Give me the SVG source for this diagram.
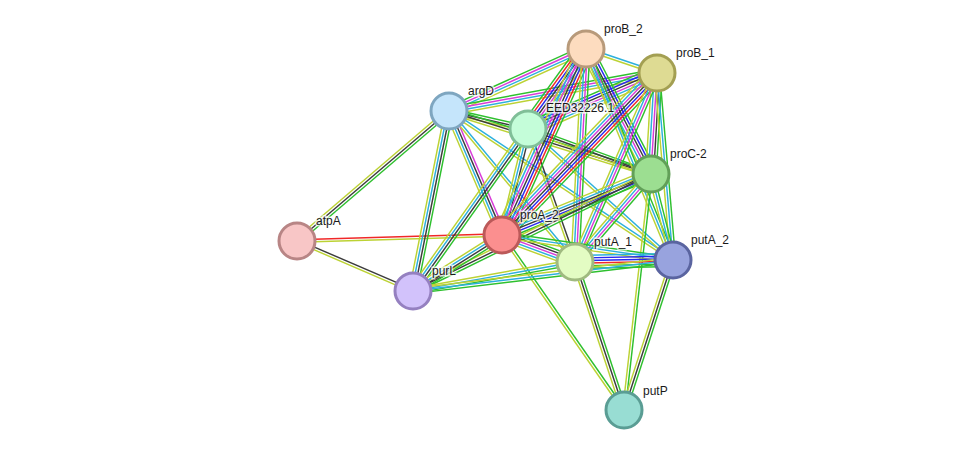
<svg xmlns="http://www.w3.org/2000/svg" width="975" height="457" viewBox="0 0 975 457">
<style>
.e path{fill:none;stroke-width:1.45}
.g{stroke:#2EC02E}.r{stroke:#F02828}.b{stroke:#2828F0}.k{stroke:#3C3C3C}.m{stroke:#D83CD8}.c{stroke:#2CB0DC}.y{stroke:#BCD234}
.n circle{stroke-width:3}
.n text{font-family:"Liberation Sans",Arial,sans-serif;font-size:12px;fill:#1a1a1a;stroke:#fff;stroke-width:3;stroke-opacity:.7;paint-order:stroke}
</style>
<rect width="975" height="457" fill="#fff"/>
<g id="connectors" class="e">
<g transform="translate(297 241) rotate(-40.54)"><path class="y" d="M0 -2.6H200"/><path class="k" d="M0 0H200"/><path class="g" d="M0 2.6H200"/></g>
<g transform="translate(297 241) rotate(-1.68)"><path class="r" d="M0 -1.3H205"/><path class="y" d="M0 1.3H205"/></g>
<g transform="translate(297 241) rotate(23.32)"><path class="k" d="M0 -1.3H126"/><path class="y" d="M0 1.3H126"/></g>
<g transform="translate(449 111) rotate(-24.35)"><path class="g" d="M0 -3.9H150"/><path class="m" d="M0 -1.3H150"/><path class="c" d="M0 1.3H150"/><path class="y" d="M0 3.9H150"/></g>
<g transform="translate(449 111) rotate(-10.35)"><path class="g" d="M0 -3.9H211"/><path class="m" d="M0 -1.3H211"/><path class="c" d="M0 1.3H211"/><path class="y" d="M0 3.9H211"/></g>
<g transform="translate(449 111) rotate(12.84)"><path class="g" d="M0 -2.6H81"/><path class="k" d="M0 0H81"/><path class="y" d="M0 2.6H81"/></g>
<g transform="translate(449 111) rotate(17.32)"><path class="g" d="M0 -2.6H212"/><path class="k" d="M0 0H212"/><path class="y" d="M0 2.6H212"/></g>
<g transform="translate(449 111) rotate(66.86)"><path class="m" d="M0 -3.9H135"/><path class="k" d="M0 -1.3H135"/><path class="c" d="M0 1.3H135"/><path class="y" d="M0 3.9H135"/></g>
<g transform="translate(449 111) rotate(101.31)"><path class="g" d="M0 -3.9H184"/><path class="k" d="M0 -1.3H184"/><path class="c" d="M0 1.3H184"/><path class="y" d="M0 3.9H184"/></g>
<g transform="translate(449 111) rotate(50.16)"><path class="c" d="M0 -1.3H197"/><path class="y" d="M0 1.3H197"/></g>
<g transform="translate(449 111) rotate(33.63)"><path class="c" d="M0 -1.3H269"/><path class="y" d="M0 1.3H269"/></g>
<g transform="translate(528 129) rotate(-54.06)"><path class="g" d="M0 -7.8H99"/><path class="r" d="M0 -5.2H99"/><path class="b" d="M0 -2.6H99"/><path class="k" d="M0 0H99"/><path class="m" d="M0 2.6H99"/><path class="c" d="M0 5.2H99"/><path class="y" d="M0 7.8H99"/></g>
<g transform="translate(528 129) rotate(-23.46)"><path class="g" d="M0 -6.5H141"/><path class="b" d="M0 -3.9H141"/><path class="k" d="M0 -1.3H141"/><path class="m" d="M0 1.3H141"/><path class="c" d="M0 3.9H141"/><path class="y" d="M0 6.5H141"/></g>
<g transform="translate(528 129) rotate(20.1)"><path class="g" d="M0 -2.6H131"/><path class="k" d="M0 0H131"/><path class="y" d="M0 2.6H131"/></g>
<g transform="translate(528 129) rotate(103.78)"><path class="k" d="M0 -2.6H109"/><path class="c" d="M0 0H109"/><path class="y" d="M0 2.6H109"/></g>
<g transform="translate(528 129) rotate(125.37)"><path class="g" d="M0 -3.9H199"/><path class="k" d="M0 -1.3H199"/><path class="c" d="M0 1.3H199"/><path class="y" d="M0 3.9H199"/></g>
<g transform="translate(528 129) rotate(70.54)"><path class="k" d="M0 -1.3H141"/><path class="y" d="M0 1.3H141"/></g>
<g transform="translate(528 129) rotate(42.1)"><path class="c" d="M0 -1.3H195"/><path class="y" d="M0 1.3H195"/></g>
<g transform="translate(586 49) rotate(18.68)"><path class="c" d="M0 -1.3H75"/><path class="y" d="M0 1.3H75"/></g>
<g transform="translate(586 49) rotate(62.53)"><path class="g" d="M0 -6.5H141"/><path class="b" d="M0 -3.9H141"/><path class="k" d="M0 -1.3H141"/><path class="m" d="M0 1.3H141"/><path class="c" d="M0 3.9H141"/><path class="y" d="M0 6.5H141"/></g>
<g transform="translate(586 49) rotate(114.3)"><path class="g" d="M0 -7.8H204"/><path class="r" d="M0 -5.2H204"/><path class="b" d="M0 -2.6H204"/><path class="k" d="M0 0H204"/><path class="m" d="M0 2.6H204"/><path class="c" d="M0 5.2H204"/><path class="y" d="M0 7.8H204"/></g>
<g transform="translate(586 49) rotate(92.96)"><path class="g" d="M0 -3.9H213"/><path class="m" d="M0 -1.3H213"/><path class="c" d="M0 1.3H213"/><path class="y" d="M0 3.9H213"/></g>
<g transform="translate(586 49) rotate(67.59)"><path class="g" d="M0 -2.6H228"/><path class="c" d="M0 0H228"/><path class="y" d="M0 2.6H228"/></g>
<g transform="translate(657 73) rotate(93.4)"><path class="g" d="M0 -5.2H101"/><path class="k" d="M0 -2.6H101"/><path class="m" d="M0 0H101"/><path class="c" d="M0 2.6H101"/><path class="y" d="M0 5.2H101"/></g>
<g transform="translate(657 73) rotate(133.74)"><path class="g" d="M0 -7.8H224"/><path class="r" d="M0 -5.2H224"/><path class="b" d="M0 -2.6H224"/><path class="k" d="M0 0H224"/><path class="m" d="M0 2.6H224"/><path class="c" d="M0 5.2H224"/><path class="y" d="M0 7.8H224"/></g>
<g transform="translate(657 73) rotate(113.45)"><path class="g" d="M0 -3.9H206"/><path class="m" d="M0 -1.3H206"/><path class="c" d="M0 1.3H206"/><path class="y" d="M0 3.9H206"/></g>
<g transform="translate(657 73) rotate(85.11)"><path class="g" d="M0 -2.6H188"/><path class="c" d="M0 0H188"/><path class="y" d="M0 2.6H188"/></g>
<g transform="translate(651 174) rotate(157.74)"><path class="g" d="M0 -5.2H161"/><path class="b" d="M0 -2.6H161"/><path class="k" d="M0 0H161"/><path class="c" d="M0 2.6H161"/><path class="y" d="M0 5.2H161"/></g>
<g transform="translate(651 174) rotate(130.82)"><path class="g" d="M0 -3.9H116"/><path class="m" d="M0 -1.3H116"/><path class="c" d="M0 1.3H116"/><path class="y" d="M0 3.9H116"/></g>
<g transform="translate(651 174) rotate(75.65)"><path class="g" d="M0 -2.6H89"/><path class="c" d="M0 0H89"/><path class="y" d="M0 2.6H89"/></g>
<g transform="translate(651 174) rotate(153.82)"><path class="g" d="M0 -2.6H265"/><path class="k" d="M0 0H265"/><path class="y" d="M0 2.6H265"/></g>
<g transform="translate(651 174) rotate(96.53)"><path class="g" d="M0 -1.3H237"/><path class="y" d="M0 1.3H237"/></g>
<g transform="translate(502 235) rotate(20.3)"><path class="g" d="M0 -5.2H78"/><path class="k" d="M0 -2.6H78"/><path class="m" d="M0 0H78"/><path class="c" d="M0 2.6H78"/><path class="y" d="M0 5.2H78"/></g>
<g transform="translate(502 235) rotate(8.32)"><path class="g" d="M0 -2.6H173"/><path class="c" d="M0 0H173"/><path class="y" d="M0 2.6H173"/></g>
<g transform="translate(502 235) rotate(147.82)"><path class="g" d="M0 -3.9H105"/><path class="k" d="M0 -1.3H105"/><path class="c" d="M0 1.3H105"/><path class="y" d="M0 3.9H105"/></g>
<g transform="translate(502 235) rotate(55.12)"><path class="g" d="M0 -1.3H213"/><path class="y" d="M0 1.3H213"/></g>
<g transform="translate(575 262) rotate(-1.17)"><path class="c" d="M0 -6.5H98"/><path class="b" d="M0 -3.9H98"/><path class="b" d="M0 -1.3H98"/><path class="r" d="M0 1.3H98"/><path class="g" d="M0 3.9H98"/><path class="g" d="M0 6.5H98"/></g>
<g transform="translate(575 262) rotate(169.85)"><path class="g" d="M0 -2.6H165"/><path class="c" d="M0 0H165"/><path class="y" d="M0 2.6H165"/></g>
<g transform="translate(575 262) rotate(71.68)"><path class="g" d="M0 -2.6H156"/><path class="k" d="M0 0H156"/><path class="y" d="M0 2.6H156"/></g>
<g transform="translate(673 260) rotate(173.2)"><path class="g" d="M0 -2.6H262"/><path class="c" d="M0 0H262"/><path class="y" d="M0 2.6H262"/></g>
<g transform="translate(673 260) rotate(108.09)"><path class="g" d="M0 -2.6H158"/><path class="k" d="M0 0H158"/><path class="y" d="M0 2.6H158"/></g>
</g>
<g id="atpA" class="n"><circle cx="297" cy="241" r="18" fill="#F8C6C6" stroke="#B88585"/><text x="316" y="225">atpA</text></g>
<g id="argD" class="n"><circle cx="449" cy="111" r="18" fill="#C5E5FB" stroke="#7EA6C0"/><text x="468" y="95">argD</text></g>
<g id="EED32226.1" class="n"><circle cx="528" cy="129" r="18" fill="#C4FDD9" stroke="#80BF98"/><text x="546" y="112">EED32226.1</text></g>
<g id="proB_2" class="n"><circle cx="586" cy="49" r="18" fill="#FDDCBF" stroke="#B89A7A"/><text x="604" y="33">proB_2</text></g>
<g id="proB_1" class="n"><circle cx="657" cy="73" r="18" fill="#DEDB93" stroke="#A39F52"/><text x="676" y="57">proB_1</text></g>
<g id="proC-2" class="n"><circle cx="651" cy="174" r="18" fill="#9CDE91" stroke="#62A058"/><text x="670" y="158">proC-2</text></g>
<g id="proA_2" class="n"><circle cx="502" cy="235" r="18" fill="#FB8F8F" stroke="#BB5959"/><text x="520" y="219">proA_2</text></g>
<g id="putA_1" class="n"><circle cx="575" cy="262" r="18" fill="#E3FCC3" stroke="#A0BA80"/><text x="594" y="246">putA_1</text></g>
<g id="putA_2" class="n"><circle cx="673" cy="260" r="18" fill="#98A3DE" stroke="#5A64A0"/><text x="691" y="244">putA_2</text></g>
<g id="purL" class="n"><circle cx="413" cy="291" r="18" fill="#D2C2FB" stroke="#9580C0"/><text x="432" y="275">purL</text></g>
<g id="putP" class="n"><circle cx="624" cy="410" r="18" fill="#98DDD3" stroke="#5A9D94"/><text x="643" y="395">putP</text></g>
</svg>
